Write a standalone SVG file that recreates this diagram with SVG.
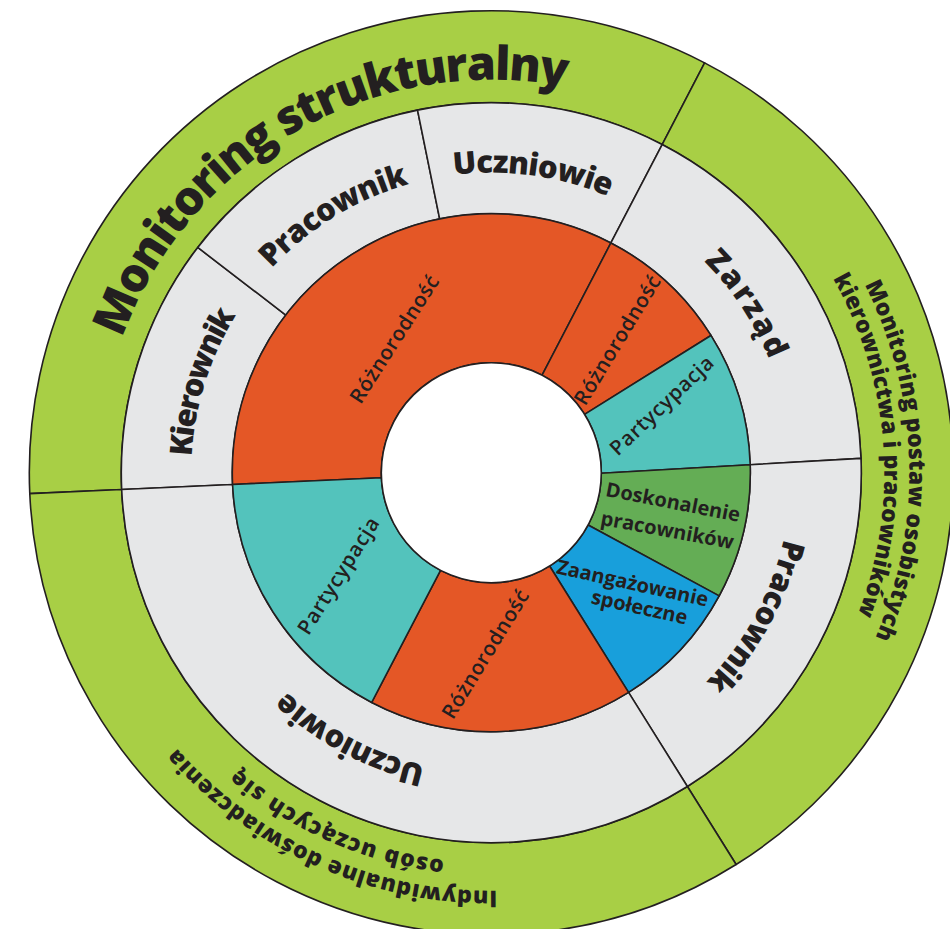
<svg xmlns="http://www.w3.org/2000/svg" xmlns:xlink="http://www.w3.org/1999/xlink" width="950" height="929" viewBox="0 0 950 929">
  <style>
    .seg { stroke: #231f20; stroke-width: 1.6; stroke-linejoin: round; }
    .lime { fill: #a8cf45; }
    .grey { fill: #e6e7e8; }
    .orange { fill: #e45726; }
    .teal { fill: #53c3bc; }
    .green { fill: #64ad55; }
    .blue { fill: #189fdb; }
    text { font-family: "Open Sans", "Noto Sans", "Liberation Sans", sans-serif; fill: #231f20; text-anchor: middle; }
    .title { font-size: 47px; font-weight: 800; }
    .outer { font-size: 23px; font-weight: 800; }
    .mid { font-size: 31px; font-weight: 800; }
    .inner { font-size: 20.5px; font-weight: 600; }
    .inner2 { font-size: 20px; font-weight: 700; }
  </style>
  <defs>
    <!-- clockwise arcs centred on the top of the wheel; labels are rotated onto them -->
    <path id="arc300" d="M -298.86,-26.15 A 300 300 0 0 1 298.86,-26.15"/>
    <path id="arc393" d="M -391.50,-34.25 A 393 393 0 0 1 391.50,-34.25"/>
    <path id="arc390" d="M -388.51,-33.99 A 390 390 0 0 1 388.51,-33.99"/>
    <path id="arc418" d="M -416.41,-36.43 A 418 418 0 0 1 416.41,-36.43"/>
  </defs>

  <g transform="translate(491.3,472.7)">
    <!-- outer ring: monitoring areas -->
    <g id="monitoring-strukturalny">
      <path class="seg lime" d="M -461.52,20.96 A 462 462 0 0 1 213.33,-409.80 L 170.85,-328.19 A 370 370 0 0 0 -369.62,16.78 Z"/>
      <text class="title" transform="rotate(-29.5)"><textPath xlink:href="#arc393" href="#arc393" startOffset="50%" textLength="555" lengthAdjust="spacing">Monitoring strukturalny</textPath></text>
    </g>
    <g id="monitoring-postaw">
      <path class="seg lime" d="M 213.33,-409.80 A 462 462 0 0 1 244.82,391.80 L 196.07,313.78 A 370 370 0 0 0 170.85,-328.19 Z"/>
      <text class="outer" transform="rotate(88.25)"><textPath xlink:href="#arc418" href="#arc418" startOffset="50%" textLength="365" lengthAdjust="spacing">Monitoring postaw osobistych</textPath></text>
      <text class="outer" transform="rotate(85.75)"><textPath xlink:href="#arc393" href="#arc393" startOffset="50%" textLength="348" lengthAdjust="spacing">kierownictwa i pracowników</textPath></text>
    </g>
    <g id="indywidualne-doswiadczenia">
      <path class="seg lime" d="M 244.82,391.80 A 462 462 0 0 1 -461.52,20.96 L -369.62,16.78 A 370 370 0 0 0 196.07,313.78 Z"/>
      <text class="outer" transform="rotate(204)"><textPath xlink:href="#arc418" href="#arc418" startOffset="50%" textLength="362" lengthAdjust="spacing">Indywidualne doświadczenia</textPath></text>
      <text class="outer" transform="rotate(203.7)"><textPath xlink:href="#arc390" href="#arc390" startOffset="50%" textLength="229" lengthAdjust="spacing">osób uczących się</textPath></text>
    </g>

    <!-- middle ring: groups -->
    <g id="kierownik">
      <path class="seg grey" d="M -369.62,16.78 A 370 370 0 0 1 -293.54,-225.24 L -205.48,-157.67 A 259 259 0 0 0 -258.73,11.75 Z"/>
      <text class="mid" transform="rotate(-72.6)"><textPath xlink:href="#arc300" href="#arc300" startOffset="50%" textLength="150" lengthAdjust="spacing">Kierownik</textPath></text>
    </g>
    <g id="pracownik-gora">
      <path class="seg grey" d="M -293.54,-225.24 A 370 370 0 0 1 -73.77,-362.57 L -51.64,-253.80 A 259 259 0 0 0 -205.48,-157.67 Z"/>
      <text class="mid" transform="rotate(-31.5)"><textPath xlink:href="#arc300" href="#arc300" startOffset="50%" textLength="163" lengthAdjust="spacing">Pracownik</textPath></text>
    </g>
    <g id="uczniowie-gora">
      <path class="seg grey" d="M -73.77,-362.57 A 370 370 0 0 1 170.85,-328.19 L 119.59,-229.74 A 259 259 0 0 0 -51.64,-253.80 Z"/>
      <text class="mid" transform="rotate(7.9)"><textPath xlink:href="#arc300" href="#arc300" startOffset="50%" textLength="158" lengthAdjust="spacing">Uczniowie</textPath></text>
    </g>
    <g id="zarzad">
      <path class="seg grey" d="M 170.85,-328.19 A 370 370 0 0 1 369.7,-14.36 L 258.9,-7.97 A 259 259 0 0 0 119.59,-229.74 Z"/>
      <text class="mid" transform="rotate(56.5)"><textPath xlink:href="#arc300" href="#arc300" startOffset="50%" textLength="119" lengthAdjust="spacing">Zarząd</textPath></text>
    </g>
    <g id="pracownik-prawo">
      <path class="seg grey" d="M 369.7,-14.36 A 370 370 0 0 1 196.07,313.78 L 137.25,219.64 A 259 259 0 0 0 258.9,-7.97 Z"/>
      <text class="mid" transform="rotate(118.5)"><textPath xlink:href="#arc300" href="#arc300" startOffset="50%" textLength="165" lengthAdjust="spacing">Pracownik</textPath></text>
    </g>
    <g id="uczniowie-dol">
      <path class="seg grey" d="M 196.07,313.78 A 370 370 0 0 1 -369.62,16.78 L -258.73,11.75 A 259 259 0 0 0 137.25,219.64 Z"/>
      <text class="mid" transform="rotate(207.9)"><textPath xlink:href="#arc300" href="#arc300" startOffset="50%" textLength="160" lengthAdjust="spacing">Uczniowie</textPath></text>
    </g>

    <!-- inner ring: themes -->
    <g id="roznorodnosc-kierownik">
      <path class="seg orange" d="M -258.73,11.75 A 259 259 0 0 1 119.59,-229.74 L 50.79,-97.57 A 110 110 0 0 0 -109.89,4.99 Z"/>
    </g>
    <g id="roznorodnosc-zarzad">
      <path class="seg orange" d="M 119.59,-229.74 A 259 259 0 0 1 219.64,-137.25 L 93.29,-58.29 A 110 110 0 0 0 50.79,-97.57 Z"/>
    </g>
    <g id="partycypacja-zarzad">
      <path class="seg teal" d="M 219.64,-137.25 A 259 259 0 0 1 258.9,-7.97 L 110.0,0.62 A 110 110 0 0 0 93.29,-58.29 Z"/>
    </g>
    <g id="doskonalenie">
      <path class="seg green" d="M 258.9,-7.97 A 259 259 0 0 1 227.83,123.19 L 96.76,52.32 A 110 110 0 0 0 110.0,0.62 Z"/>
    </g>
    <g id="zaangazowanie">
      <path class="seg blue" d="M 227.83,123.19 A 259 259 0 0 1 137.25,219.64 L 58.29,93.29 A 110 110 0 0 0 96.76,52.32 Z"/>
    </g>
    <g id="roznorodnosc-uczniowie">
      <path class="seg orange" d="M 137.25,219.64 A 259 259 0 0 1 -119.59,229.74 L -50.79,97.57 A 110 110 0 0 0 58.29,93.29 Z"/>
    </g>
    <g id="partycypacja-uczniowie">
      <path class="seg teal" d="M -119.59,229.74 A 259 259 0 0 1 -258.73,11.75 L -109.89,4.99 A 110 110 0 0 0 -50.79,97.57 Z"/>
    </g>

    <!-- hub -->
    <circle class="seg" r="110" fill="#ffffff"/>
  </g>

  <!-- inner ring labels -->
  <text class="inner" transform="translate(394,339) rotate(-57.4)" y="7.5" textLength="147" lengthAdjust="spacing">Różnorodność</text>
  <text class="inner" transform="translate(617,340) rotate(-58.8)" y="7.5" textLength="147" lengthAdjust="spacing">Różnorodność</text>
  <text class="inner" transform="translate(485,654) rotate(-58.5)" y="7.5" textLength="147" lengthAdjust="spacing">Różnorodność</text>
  <text class="inner" transform="translate(663,407) rotate(-43.5)" y="5" textLength="134" lengthAdjust="spacing">Partycypacja</text>
  <text class="inner" transform="translate(340,577) rotate(-57.7)" y="5" textLength="134" lengthAdjust="spacing">Partycypacja</text>
  <text class="inner2" transform="translate(673,502) rotate(11)" y="7">Doskonalenie</text>
  <text class="inner2" transform="translate(667,532) rotate(10.5)" y="5">pracowników</text>
  <text class="inner2" transform="translate(632,585) rotate(12.5)" y="5">Zaangażowanie</text>
  <text class="inner2" transform="translate(639,609) rotate(12.5)" y="5">społeczne</text>
</svg>
